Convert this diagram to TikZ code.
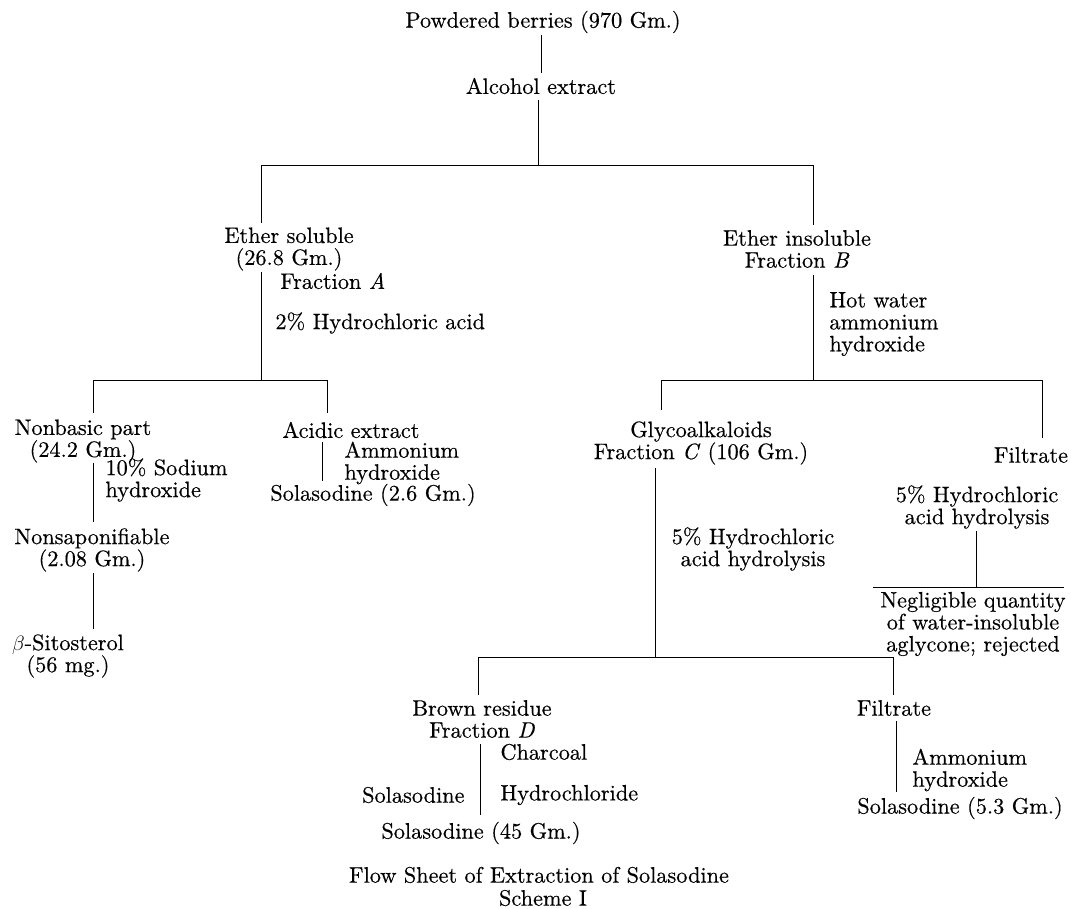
\documentclass[tikz,border=0pt]{standalone}
\usepackage{fontspec}
\setmainfont{lmroman10-regular.otf}[ItalicFont=lmroman10-italic.otf,FakeBold=0.4]
\begin{document}
\begin{tikzpicture}[x=1pt,y=-1pt,line width=0.9pt,
  every node/.style={inner sep=0pt,font=\fontsize{22.3}{22}\selectfont},
  lbl/.style={align=center},
  lft/.style={anchor=west,align=left},
  rgt/.style={anchor=east,align=right}]
\useasboundingbox (0,0) rectangle (1071,909);
% ---- top ----
\node[lbl] (pb) at (543,22) {Powdered berries (970 Gm.)};
\node[lbl] (ae) at (541,86) {Alcohol extract};
\draw[shorten <=1pt,shorten >=4pt] (pb.south -| ae.south) -- (ae.north);
\coordinate (t0) at (538,165);
\coordinate (tL) at (261,165);
\coordinate (tR) at (813,165);
\draw[shorten <=5pt] (ae.south -| t0) -- (t0);
\draw (tL) -- (tR);
\draw (tL) -- ++(0,58);
\draw (tR) -- ++(0,60);
% ---- left branch ----
\node[lbl] (es) at (289,249) {Ether soluble\\(26.8 Gm.)};
\node[lft] (fa) at (280,281) {Fraction \textit{A}};
\coordinate (lb) at (261,380);
\draw[shorten <=1pt] (es.south -| lb) -- (lb);
\node[lft] (hcl2) at (275,323) {2\% Hydrochloric acid};
\coordinate (lbL) at (93,380);
\coordinate (lbR) at (327,380);
\draw (lbL) -- (lbR);
\draw (lbL) -- ++(0,33);
\draw (lbR) -- ++(0,33);
\node[lbl] (nb) at (83,441) {Nonbasic part\\(24.2 Gm.)};
\node[lbl] (ac) at (351,430) {Acidic extract};
\node[lft] (naoh) at (105,480) {10\% Sodium\\hydroxide};
\node[lbl] (ns) at (92,550) {Nonsaponifiable\\(2.08 Gm.)};
\node[lbl] (bs) at (68,656) {$\beta$-Sitosterol\\(56 mg.)};
\draw[shorten >=6pt] (nb.south -| lbL) -- (ns.north -| lbL);
\draw[shorten <=1pt,shorten >=5pt] (ns.south -| lbL) -- (bs.north -| lbL);
\coordinate (acx) at (322,0);
\node[lft] (am1) at (344,463) {Ammonium\\hydroxide};
\node[lbl] (so1) at (373,495) {Solasodine (2.6 Gm.)};
\draw[shorten <=3pt,shorten >=2pt] (ac.south -| acx) -- (so1.north -| acx);
% ---- right branch ----
\node[lbl] (ei) at (797,249) {Ether insoluble\\Fraction \textit{B}};
\coordinate (rb) at (813,380);
\draw[shorten <=7pt] (ei.south -| rb) -- (rb);
\node[lft] (hw) at (829,324) {Hot water\\ammonium\\hydroxide};
\coordinate (rbL) at (661,380);
\coordinate (rbR) at (1042,380);
\draw (rbL) -- (rbR);
\draw (rbL) -- ++(0,30);
\draw (rbR) -- ++(0,58);
\node[lbl] (gc) at (701,443) {Glycoalkaloids\\Fraction \textit{C} (106 Gm.)};
\node[lbl] (fi1) at (1031,455) {Filtrate};
\coordinate (bb) at (655,657);
\draw[shorten <=3pt] (gc.south -| bb) -- (bb);
\node[lbl] (h5a) at (753,549) {5\% Hydrochloric\\acid hydrolysis};
\node[lbl] (h5b) at (977,507) {5\% Hydrochloric\\acid hydrolysis};
\coordinate (rl) at (976,587);
\draw[shorten <=2pt] (h5b.south -| rl) -- (rl);
\coordinate (ruL) at (873,587);
\coordinate (ruR) at (1064,587);
\draw (ruL) -- (ruR);
\node[lbl] (ng) at (973,624) {Negligible quantity\\of water-insoluble\\aglycone; rejected};
% ---- bottom ----
\coordinate (bbL) at (478,657);
\coordinate (bbR) at (893,657);
\draw (bbL) -- (bbR);
\draw (bbL) -- ++(0,38);
\draw (bbR) -- ++(0,38);
\node[lbl] (br) at (482,719) {Brown residue\\Fraction \textit{D}};
\coordinate (dl) at (480,0);
\node[lft] (cc) at (500,752) {Charcoal};
\node[lft] (hc) at (500,795) {Hydrochloride};
\node[rgt] (sl) at (465,795) {Solasodine};
\node[lbl] (s45) at (481,833) {Solasodine (45 Gm.)};
\draw[shorten <=6pt,shorten >=6pt] (br.south -| dl) -- (s45.north -| dl);
\node[lbl] (fi2) at (894,708) {Filtrate};
\coordinate (fx) at (896,0);
\node[lft] (am2) at (912,770) {Ammonium\\hydroxide};
\node[lbl] (s53) at (960,808) {Solasodine (5.3 Gm.)};
\draw[shorten <=5pt,shorten >=4pt] (fi2.south -| fx) -- (s53.north -| fx);
\node[lbl] (cap1) at (539,875) {Flow Sheet of Extraction of Solasodine};
\node[lbl] (cap2) at (543,898) {Scheme I};
\end{tikzpicture}
\end{document}
